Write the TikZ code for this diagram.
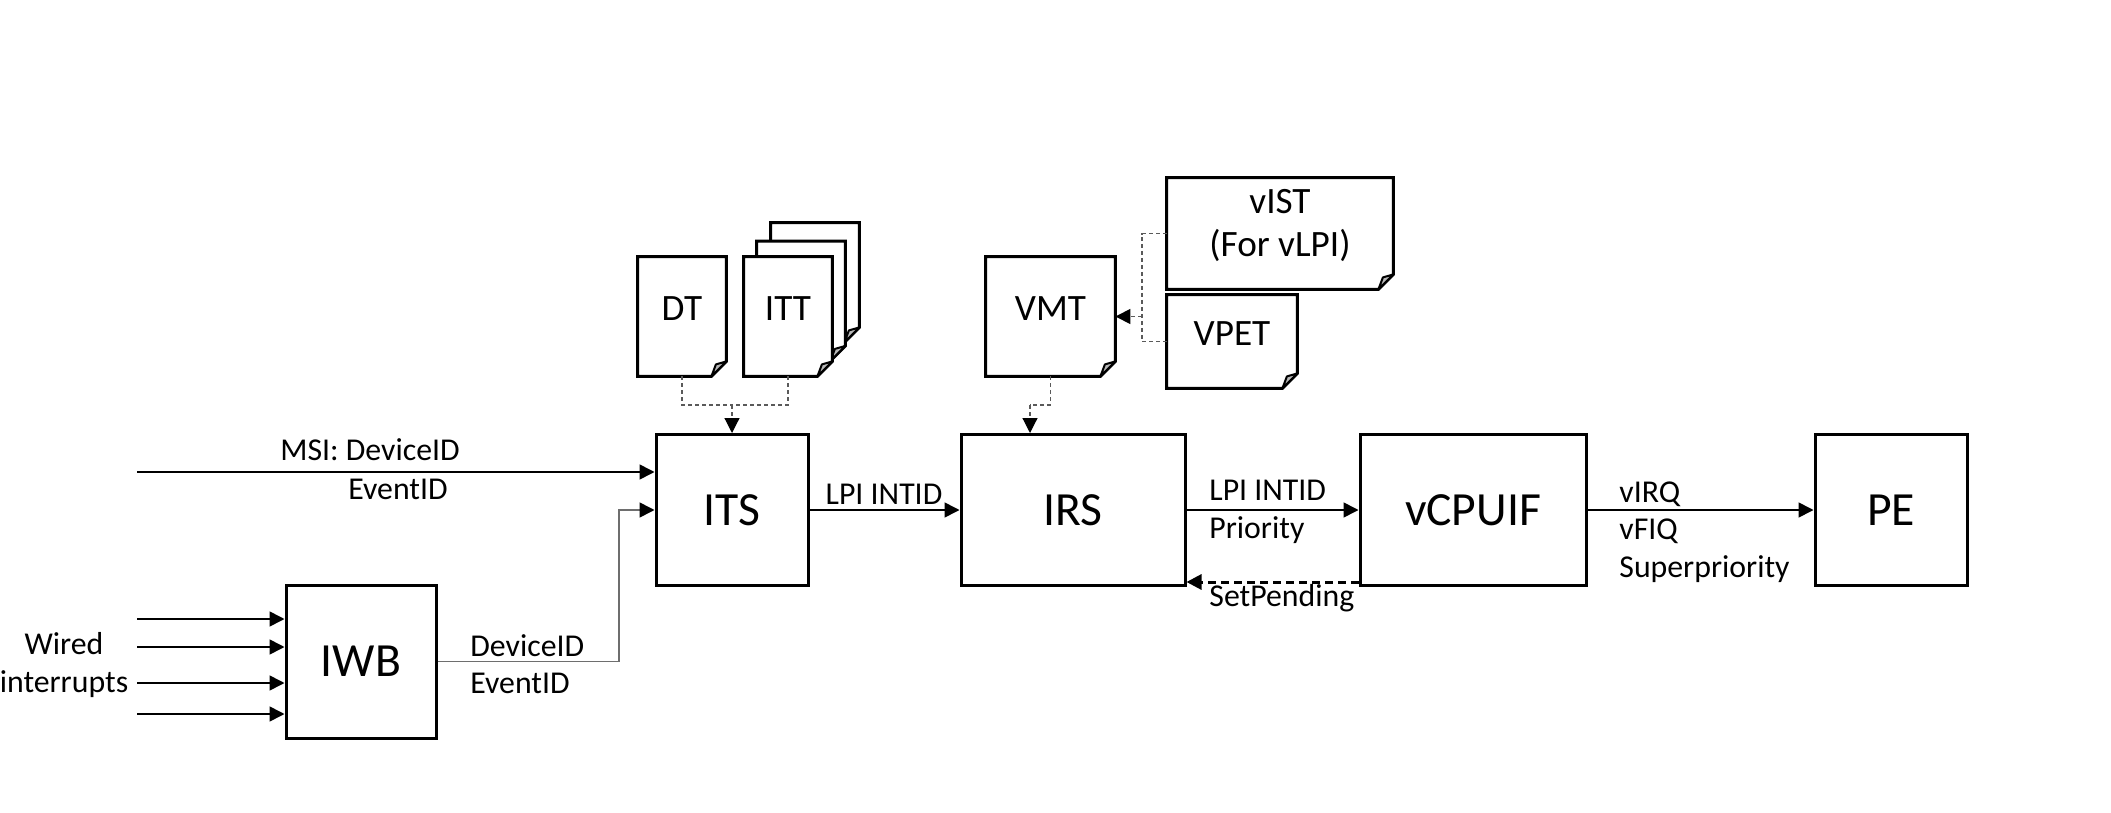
\documentclass[tikz,border=0pt]{standalone}
\usepackage{fontspec}
\setmainfont{Carlito}
\usetikzlibrary{arrows.meta,calc}
\pgfdeclarelayer{background}
\pgfsetlayers{background,main}
\definecolor{dgray}{HTML}{5A5A5A}
\definecolor{lgray}{HTML}{6E6E6E}
\definecolor{foldgray}{HTML}{B8B8B8}
\begin{document}
\begin{tikzpicture}[x=0.5pt,y=-0.5pt,
  blk/.style={draw, line width=1.5pt, minimum width=#1, minimum height=75.5pt, inner sep=0pt,
    font=\fontsize{23.8}{28}\selectfont},
  docbox/.style={draw=none, inner sep=0pt},
  doclbl/.style={yshift=4pt, inner sep=0pt, font=\fontsize{18.6}{21.5}\selectfont},
  docline/.style={draw=black, fill=white, line width=1.5pt, line join=miter},
  fold/.style={draw=black, fill=foldgray, line width=1pt, line join=round},
  lbl/.style={inner sep=0pt, font=\fontsize{15.9}{18.7}\selectfont},
  cn/.style={draw=black, line width=0.8pt},
  tip/.style={-{Triangle[length=7.5pt,width=7.5pt,color=black]}},
  dl/.style={draw=dgray, line width=0.6pt, dash pattern=on 2pt off 1.5pt},
  sp/.style={draw=black, line width=1.5pt, dash pattern=on 4pt off 2.5pt}
]
\useasboundingbox (0,0) rectangle (2111,813);

% main blocks
\node[blk=76pt] (its) at (732,510) {ITS};
\node[blk=112pt] (irs) at (1073,510) {IRS};
\node[blk=113pt] (vcpu) at (1473,510) {vCPUIF};
\node[blk=76pt] (pe) at (1891,510) {PE};
\node[blk=75pt, minimum height=76.5pt] (iwb) at (361,661.5) {IWB};

% document shapes
\node[docbox, minimum width=44pt, minimum height=59.5pt, label={[doclbl]center:DT}] (dt) at (682,316.5) {};
\node[docbox, minimum width=44pt, minimum height=59.5pt] (itt3) at (815,282.5) {};
\node[docbox, minimum width=44pt, minimum height=59.5pt] (itt2) at (801,301) {};
\node[docbox, minimum width=44pt, minimum height=59.5pt, label={[doclbl]center:ITT}] (itt) at (788,316.5) {};
\node[docbox, minimum width=64.5pt, minimum height=59.5pt, label={[doclbl]center:VMT}] (vmt) at (1050.5,316.5) {};
\node[docbox, minimum width=113pt, minimum height=55.5pt, label={[doclbl,align=center]center:{vIST\\(For vLPI)}}] (vist) at (1280,233.5) {};
\node[docbox, minimum width=65pt, minimum height=46.5pt, label={[doclbl]center:VPET}] (vpet) at (1232,341.5) {};

\begin{pgfonlayer}{background}
\fill[white] (0,0) rectangle (2111,813);
\foreach \n in {dt,itt3,itt2,itt,vmt,vist,vpet}{
  \filldraw[docline] (\n.north west) -- (\n.north east) -- ([yshift=7.5pt]\n.south east)
    -- ([xshift=-7.5pt]\n.south east) -- (\n.south west) -- cycle;
  \filldraw[fold] ([xshift=-7.5pt]\n.south east) -- ([xshift=-5.25pt,yshift=6pt]\n.south east)
    -- ([yshift=7.5pt]\n.south east) -- cycle;
}
\end{pgfonlayer}

% dashed table connectors
\coordinate (j1) at (732,405);
\draw[dl] (dt.south) |- (j1);
\draw[dl] (itt.south) |- (j1);
\draw[dl,tip] (j1) -- (its.north);

\coordinate (j2) at (1030,405);
\draw[dl] (vmt.south) |- (j2);
\draw[dl,tip] (j2) -- (j2 |- irs.north);

\coordinate (j3) at (1142,316.5);
\draw[dl] (vist.west) -| (j3 |- vpet.west) -- (vpet.west);
\draw[dl,tip] (j3) -- (vmt.east);

% MSI input
\coordinate (msi) at (137,472);
\draw[cn,tip] (msi) -- (msi -| its.west);
\node[lbl] (msi1) at (370,450) {MSI: DeviceID};
\node[lbl] (msi2) at (398,489) {EventID};

% IWB to ITS
\coordinate (j4) at (619,510);
\draw[draw=lgray, line width=0.8pt, tip] (iwb.east) -| (j4) -- (its.west);
\node[lbl, anchor=west, align=left] (iwbl) at (470,664) {DeviceID\\EventID};

% wired interrupts
\foreach \yy [count=\i] in {619,647,683,714} {
  \coordinate (w\i) at (137,\yy);
  \draw[cn,tip] (w\i) -- (w\i -| iwb.west);
}
\node[lbl, align=center] (wired) at (64,665) {Wired\\interrupts};

% main chain
\draw[cn,tip] (its.east) -- (irs.west);
\node[lbl] (l1) at (884,494) {LPI INTID};
\draw[cn,tip] (irs.east) -- (vcpu.west);
\node[lbl, anchor=west, align=left] (l2) at (1209,512) {LPI INTID\\Priority};
\draw[sp,tip] ([yshift=2.5pt]vcpu.south west) -- ([yshift=2.5pt]irs.south east);
\node[lbl, anchor=west] (l3) at (1209,598) {SetPending};
\draw[cn,tip] (vcpu.east) -- (pe.west);
\node[lbl, anchor=west, align=left] (l4) at (1619,532) {vIRQ\\vFIQ\\Superpriority};
\end{tikzpicture}
\end{document}
